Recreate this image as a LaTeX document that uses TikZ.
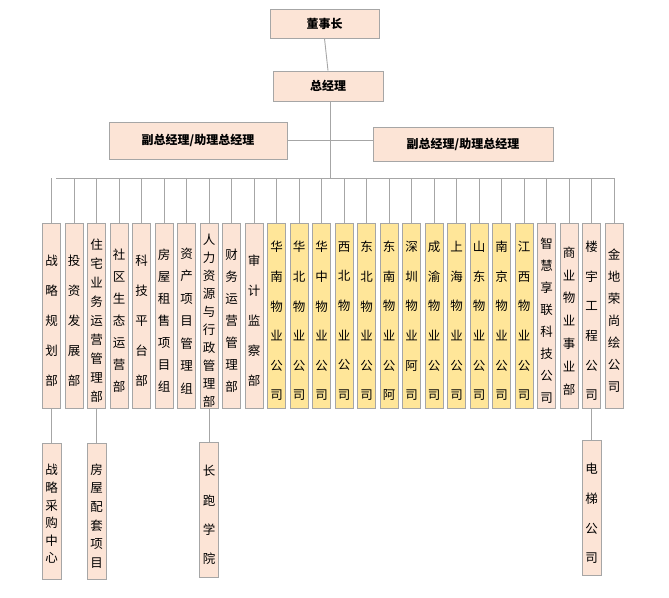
\documentclass[tikz,border=0pt]{standalone}
\usepackage{fontspec}
\setmainfont{Noto Sans CJK SC}
\definecolor{peach}{HTML}{FCE4D6}
\definecolor{gold}{HTML}{FFE699}
\definecolor{edge}{HTML}{A6A6A6}
\begin{document}
\begin{tikzpicture}[x=1pt,y=-1pt,
  box/.style={draw=edge,line width=0.9pt,fill=peach,inner sep=0pt},
  col/.style={box,minimum width=18pt,minimum height=185pt},
  gcol/.style={col,fill=gold},
  sub/.style={box,minimum width=19pt,minimum height=136pt},
  txt/.style={align=center,inner sep=0pt},
  wire/.style={draw=edge,line width=0.9pt}]
\useasboundingbox (0,0) rectangle (669,597);
\node[box,minimum width=109pt,minimum height=29pt,font=\fontsize{12}{14}\selectfont\bfseries] (ceo) at (324.5,23.5) {董事长};
\node[box,minimum width=110pt,minimum height=30pt,font=\fontsize{12}{14}\selectfont\bfseries] (gm) at (328,86) {总经理};
\node[box,minimum width=178pt,minimum height=37pt,font=\fontsize{12}{14}\selectfont\bfseries] (dl) at (198,140.5) {副总经理/助理总经理};
\node[box,minimum width=180pt,minimum height=34pt,font=\fontsize{12}{14}\selectfont\bfseries] (dr) at (463,144) {副总经理/助理总经理};
\coordinate (hub) at (330,142);
\coordinate (bus) at (330,178);
\draw[wire] (ceo.south) -- (gm.north);
\draw[wire] (gm.south -| hub) -- (bus);
\draw[wire] (dl.east) -- (dl.east -| dr.west);
\draw[wire] (56,178) -- (615,178);
\foreach \i/\t/\s/\st in {
 1/战\\略\\规\\划\\部/30/col,
 2/投\\资\\发\\展\\部/30/col,
 3/住\\宅\\业\\务\\运\\营\\管\\理\\部/19/col,
 4/社\\区\\生\\态\\运\\营\\部/22/col,
 5/科\\技\\平\\台\\部/30/col,
 6/房\\屋\\租\\售\\项\\目\\组/22/col,
 7/资\\产\\项\\目\\管\\理\\组/22.5/col,
 8/人\\力\\资\\源\\与\\行\\政\\管\\理\\部/18/col,
 9/财\\务\\运\\营\\管\\理\\部/22/col,
 10/审\\计\\监\\察\\部/30/col,
 11/华\\南\\物\\业\\公\\司/29.6/gcol,
 12/华\\北\\物\\业\\公\\司/29.6/gcol,
 13/华\\中\\物\\业\\公\\司/29.6/gcol,
 14/西\\北\\物\\业\\公\\司/29.6/gcol,
 15/东\\北\\物\\业\\公\\司/29.6/gcol,
 16/东\\南\\物\\业\\公\\阿/29.6/gcol,
 17/深\\圳\\物\\业\\阿\\司/29.6/gcol,
 18/成\\渝\\物\\业\\公\\司/29.6/gcol,
 19/上\\海\\物\\业\\公\\司/29.6/gcol,
 20/山\\东\\物\\业\\公\\司/29.6/gcol,
 21/南\\京\\物\\业\\公\\司/29.6/gcol,
 22/江\\西\\物\\业\\公\\司/29.6/gcol,
 23/智\\慧\\享\\联\\科\\技\\公\\司/22/col,
 24/商\\业\\物\\业\\事\\业\\部/22.8/col,
 25/楼\\宇\\工\\程\\公\\司/29.6/col,
 26/金\\地\\荣\\尚\\绘\\公\\司/22/col} {
  \pgfmathsetmacro{\cx}{51.5+(\i-1)*22.5}
  \node[\st] (c\i) at (\cx,316) {};
  \node[txt,font=\fontsize{12.5}{\s}\selectfont] at (\cx,321) {\t};
  \draw[wire] (\cx,178) -- (c\i.north);
}
\node[sub] (s1) at (51.5,511.5) {};
\node[txt,font=\fontsize{12.5}{17.6}\selectfont] at (51.5,514) {战\\略\\采\\购\\中\\心};
\node[sub] (s3) at (96.5,511.5) {};
\node[txt,font=\fontsize{12.5}{18.6}\selectfont] at (96.5,516) {房\\屋\\配\\套\\项\\目};
\node[sub,minimum height=135pt] (s8) at (209,509.5) {};
\node[txt,font=\fontsize{12.5}{29.3}\selectfont] at (209,515) {长\\跑\\学\\院};
\node[sub,minimum height=135pt] (s25) at (591.5,507.5) {};
\node[txt,font=\fontsize{12.5}{29.7}\selectfont] at (591.5,513.5) {电\\梯\\公\\司};
\foreach \a/\b in {1/1,3/3,8/8,25/25} \draw[wire] (c\a.south) -- (s\b.north);
\end{tikzpicture}
\end{document}
